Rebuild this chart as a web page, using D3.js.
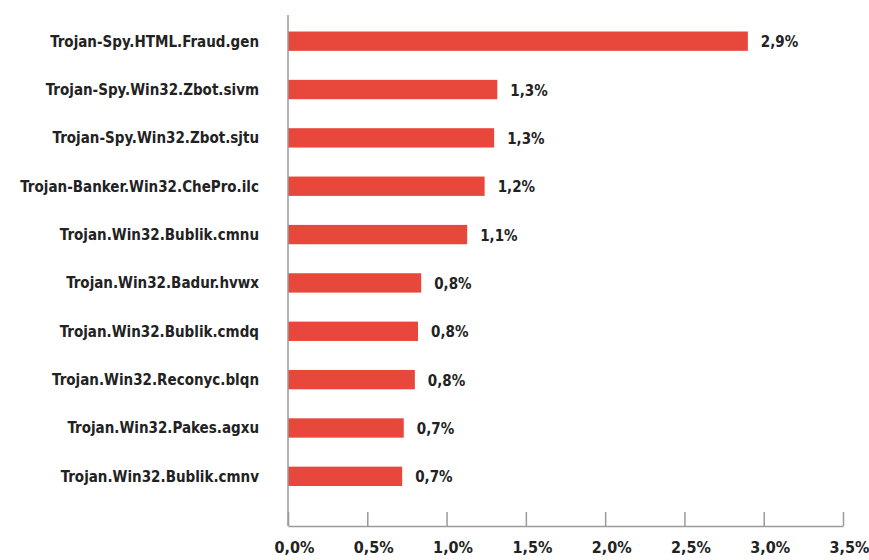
<html>
<head>
    <script type="text/javascript" src="https://d3js.org/d3.v7.min.js"></script>
    <style>
        body { margin: 0; background: #ffffff; }
        text {
            font-family: 'Liberation Sans Narrow', 'DejaVu Sans Condensed', 'Roboto Condensed', sans-serif;
            font-weight: bold;
            fill: #222222;
        }
    </style>
</head>
<body>
    <svg id="barchart" width="869" height="560"></svg>

    <script type="text/javascript">
        // categories, top to bottom
        var names = [
            "Trojan-Spy.HTML.Fraud.gen",
            "Trojan-Spy.Win32.Zbot.sivm",
            "Trojan-Spy.Win32.Zbot.sjtu",
            "Trojan-Banker.Win32.ChePro.ilc",
            "Trojan.Win32.Bublik.cmnu",
            "Trojan.Win32.Badur.hvwx",
            "Trojan.Win32.Bublik.cmdq",
            "Trojan.Win32.Reconyc.blqn",
            "Trojan.Win32.Pakes.agxu",
            "Trojan.Win32.Bublik.cmnv"
        ];
        // share, percent
        var shares = [2.90, 1.32, 1.30, 1.24, 1.13, 0.84, 0.82, 0.80, 0.73, 0.72];
        // x axis ticks
        var xTicks = [0, 0.5, 1.0, 1.5, 2.0, 2.5, 3.0, 3.5];

        var svg = d3.select("#barchart");

        // comma as decimal mark
        var locale = d3.formatLocale({decimal: ",", thousands: " ", grouping: [3], currency: ["", ""]});
        var fmt = locale.format(".1f");

        var x = d3.scaleLinear().domain([0, 3.5]).range([288, 843]);
        var y = d3.scaleBand()
            .domain(names)
            .range([17, 500.5])
            .paddingInner(0.6)
            .paddingOuter(0.3);

        var axisColor = "#9a9a9a";
        var baseY = 526;

        // bars
        svg.selectAll("rect.bar")
            .data(shares)
            .enter()
            .append("rect")
            .attr("class", "bar")
            .attr("x", x(0))
            .attr("y", function(d, i) { return y(names[i]); })
            .attr("width", function(d) { return x(d) - x(0); })
            .attr("height", y.bandwidth())
            .attr("fill", "#e8473c");

        // value labels
        svg.selectAll("text.value")
            .data(shares)
            .enter()
            .append("text")
            .attr("class", "value")
            .attr("x", function(d) { return x(d) + 13; })
            .attr("y", function(d, i) { return y(names[i]) + y.bandwidth() / 2; })
            .attr("dy", "0.4em")
            .style("font-size", "15px")
            .text(function(d) { return fmt(d) + "%"; });

        // category labels
        svg.selectAll("text.name")
            .data(names)
            .enter()
            .append("text")
            .attr("class", "name")
            .attr("x", 259)
            .attr("y", function(d) { return y(d) + y.bandwidth() / 2; })
            .attr("dy", "0.36em")
            .attr("text-anchor", "end")
            .style("font-size", "15px")
            .text(function(d) { return d; });

        // vertical axis line
        svg.append("line")
            .attr("x1", x(0)).attr("x2", x(0))
            .attr("y1", 15).attr("y2", baseY)
            .attr("stroke", axisColor)
            .attr("stroke-width", 1.5);

        // bottom axis, ticks pointing up
        var xAxis = d3.axisBottom(x)
            .tickValues(xTicks)
            .tickSizeInner(-14)
            .tickSizeOuter(0)
            .tickPadding(16)
            .tickFormat(function(d) { return fmt(d) + "%"; });

        var gx = svg.append("g")
            .attr("transform", "translate(0," + baseY + ")")
            .call(xAxis);

        gx.select(".domain").attr("stroke", axisColor).attr("stroke-width", 1.5);
        gx.selectAll(".tick line").attr("stroke", axisColor).attr("stroke-width", 1.5);
        gx.selectAll(".tick text")
            .attr("dx", 6)
            .style("font-size", "16px")
            .attr("fill", "#222222");
    </script>
</body>
</html>
